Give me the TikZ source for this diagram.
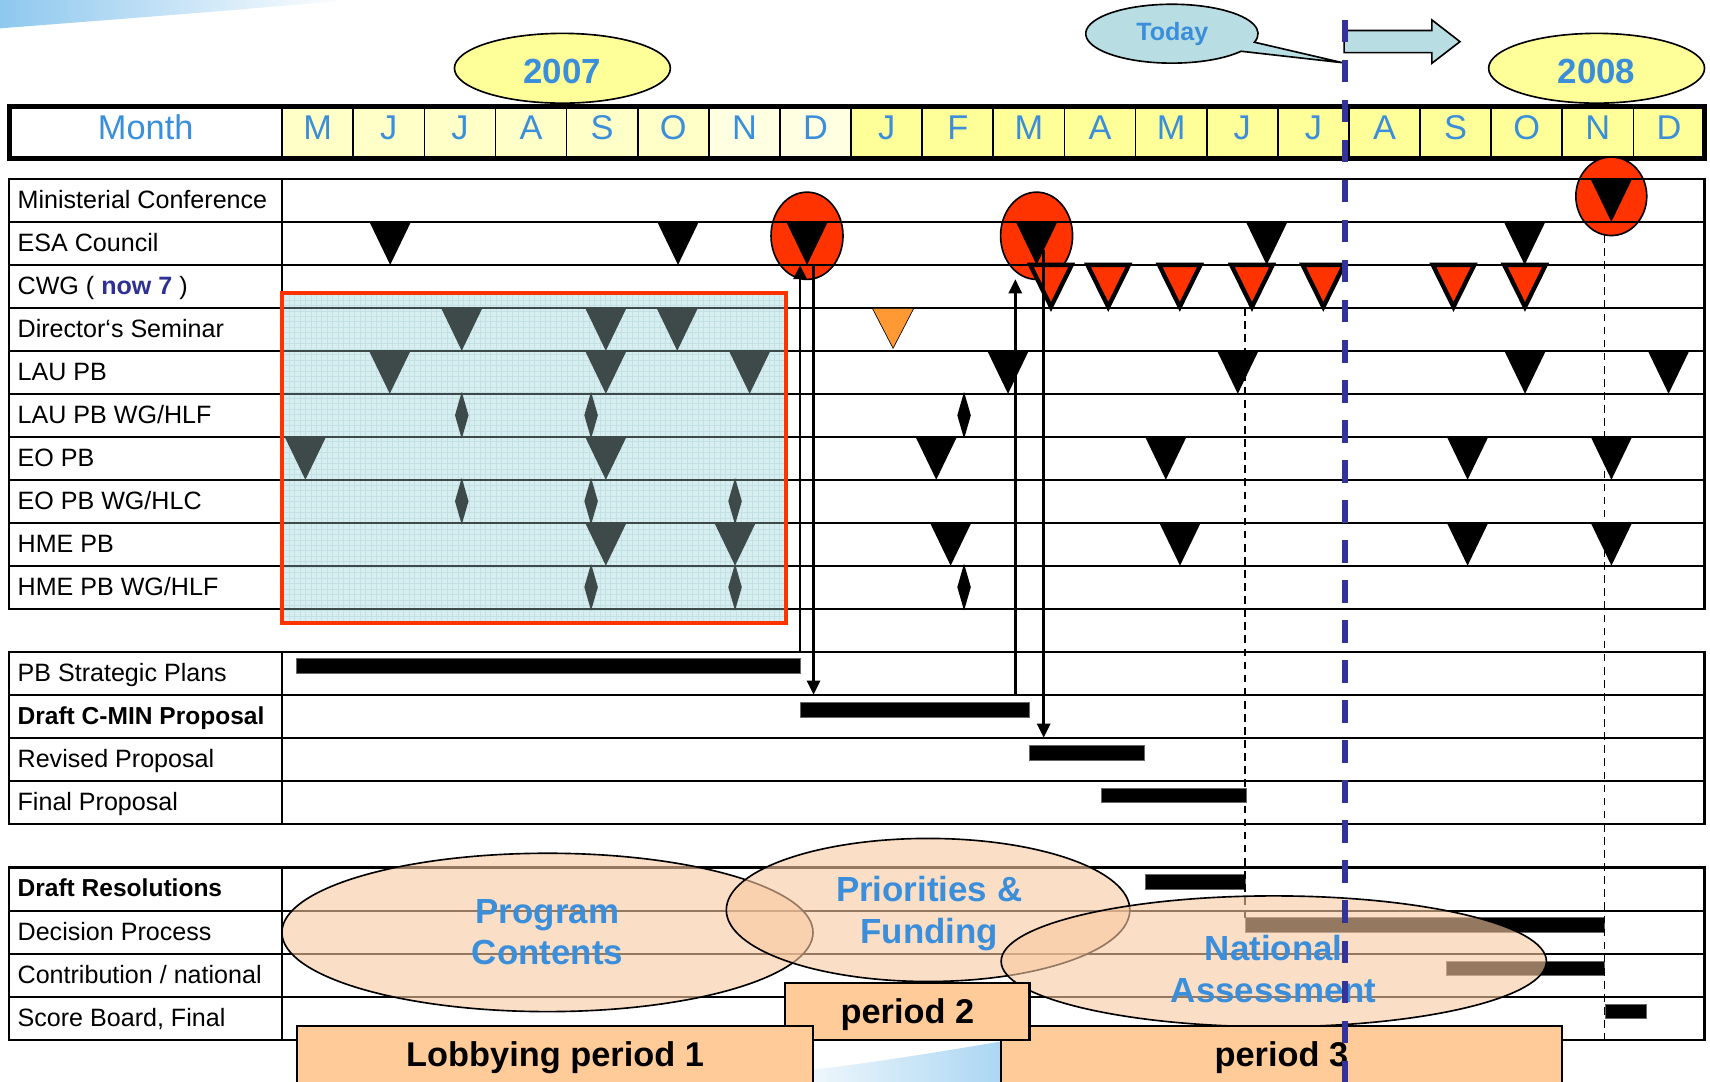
\documentclass[tikz,border=0pt]{standalone}
\usepackage{fontspec}
\setmainfont{Liberation Sans}
\usetikzlibrary{arrows.meta,calc}
\definecolor{mblue}{HTML}{3B8FDA}
\definecolor{navyt}{HTML}{2E3192}
\definecolor{redA}{HTML}{FF3300}
\definecolor{orA}{HTML}{FF9933}
\definecolor{peach}{HTML}{FFCC99}
\definecolor{ellP}{HTML}{F9C9A0}
\definecolor{cyanA}{HTML}{B8DEE3}
\definecolor{boxC}{HTML}{D7EEF0}
\definecolor{gridC}{HTML}{C3E1E5}
\definecolor{grayT}{HTML}{3E4A4A}
\definecolor{ylA}{HTML}{FFFFC8}
\definecolor{ylB}{HTML}{FFFFE2}
\definecolor{ylC}{HTML}{FFFF99}
\definecolor{yrY}{HTML}{FFFF99}
\definecolor{todayB}{HTML}{333399}
\definecolor{swA}{HTML}{8EC8EE}
\newcommand\setfs[1]{\fontsize{#1}{#1}\selectfont}
\newcommand\dtri[3]{\fill[#3] (#1,#2) ++(-19,0) -- ++(38,0) -- ++(-19,39.4) -- cycle;}
\newcommand\dmd[3]{\fill[#3] (#1,#2) ++(0,-21.5) -- ++(6.2,21.5) -- ++(-6.2,21.5) -- ++(-6.2,-21.5) -- cycle;}
\newcommand\rtri[1]{\filldraw[fill=redA,draw=black,line width=4pt,miter limit=10] (#1,242.9) ++(-19,0) -- ++(38,0) -- ++(-19,38.5) -- cycle;}
\begin{document}
\begin{tikzpicture}[x=1pt,y=-1pt,line join=miter,
  tline/.style={line width=2pt},
  lbl/.style={anchor=base west,inner sep=0pt,font=\setfs{23}},
  lblb/.style={anchor=base west,inner sep=0pt,font=\bfseries\setfs{22.5}},
  mon/.style={anchor=base,inner sep=0pt,text=mblue,font=\setfs{31.5}},
  yr/.style={anchor=base,inner sep=0pt,text=mblue,font=\bfseries\setfs{32}},
  elltxt/.style={anchor=base,inner sep=0pt,text=mblue,font=\bfseries\setfs{32}},
  pertxt/.style={anchor=base,inner sep=0pt,font=\bfseries\setfs{31.5}},
  bigell/.style={fill=ellP,fill opacity=0.6,draw=black,line width=1.5pt},
  redell/.style={fill=redA,draw=black,line width=1.5pt},
  perbox/.style={fill=peach,draw=black,line width=2pt},
  bar/.style={fill=black,draw=black!60,line width=0.5pt},
  arr/.style={line width=2.5pt,-{Triangle[length=13pt,width=12pt]}},
  thindash/.style={line width=1.3pt,dash pattern=on 7pt off 5pt}]
\useasboundingbox (0,0) rectangle (1568,992);
\fill[white] (0,0) rectangle (1568,992);
% background swooshes
\shade[left color=swA,right color=white] (0,0) -- (320,0) .. controls (210,10) and (90,19) .. (0,26) -- cycle;
\shade[left color=white,right color=swA!80] (700,992) -- (700,986) .. controls (780,978) and (860,965) .. (935,952) -- (935,992) -- cycle;

% ---------- header ----------
\fill[white] (8.6,97.8) rectangle (258.7,145.5);
\foreach \i in {0,...,19}{
  \ifnum\i<6 \def\cc{ylA}\else\ifnum\i<8 \def\cc{ylB}\else\def\cc{ylC}\fi\fi
  \fill[\cc] ({258.7+65.215*\i},97.8) rectangle ({258.7+65.215*(\i+1)},145.5);
}
\foreach \i in {0,...,19}{
  \draw[line width=1.6pt] ({258.7+65.215*\i},97.8) -- ({258.7+65.215*\i},145.5);
}
\draw[line width=4pt] (8.6,97.8) rectangle (1563,145.5);
\node[mon] (monthlbl) at (133.6,128) {Month};
\foreach \m [count=\i from 0] in {M,J,J,A,S,O,N,D,J,F,M,A,M,J,J,A,S,O,N,D}{
  \node[mon] (m\i) at ({258.7+65.215*(\i+0.5)},128) {\m};
}

% year ellipses
\draw[fill=yrY,line width=1.5pt] (515.7,62.6) ellipse[x radius=99pt,y radius=32pt];
\node[yr] (y2007) at (515.7,76.4) {2007};
\draw[fill=yrY,line width=1.5pt] (1464,62.6) ellipse[x radius=99pt,y radius=32pt];
\node[yr] (y2008) at (1464,76.4) {2008};

% today callout
\draw[fill=cyanA,line width=1.5pt] (1138,47) arc[start angle=-36.6,end angle=-376.8,x radius=79pt,y radius=27pt] -- (1231,57.5) -- cycle;
\node[anchor=base,inner sep=0pt,text=mblue,font=\bfseries\setfs{23}] (today) at (1075,36.7) {Today};
% block arrow
\draw[fill=cyanA,line width=1.5pt] (1232.5,28) -- (1313,28) -- (1313,18.3) -- (1338.7,38.2) -- (1313,58) -- (1313,48.3) -- (1232.5,48.3) -- cycle;

% ---------- red ellipses ----------
\draw[redell] (740,216.2) ellipse[x radius=33pt,y radius=40pt];
\draw[redell] (950.5,216.2) ellipse[x radius=33pt,y radius=40pt];
\draw[redell] (1477.5,180) ellipse[x radius=32.5pt,y radius=36pt];

% ---------- table 1 ----------
\draw[tline] (8.6,164.1) rectangle (1563,558.1);
\foreach \k in {1,...,9}{\draw[tline] (8.6,{164.1+39.4*\k}) -- (1563,{164.1+39.4*\k});}
\draw[tline] (258.7,164.1) -- (258.7,558.1);
\node[lbl] (l1) at (16,191.1) {Ministerial Conference};
\node[lbl] (l2) at (16,230.5) {ESA Council};
\node[lbl] (l3) at (16,269.9) {CWG ( \textbf{\textcolor{navyt}{now 7}} )};
\node[lbl] (l4) at (16,309.3) {Director‘s Seminar};
\node[lbl] (l5) at (16,348.7) {LAU PB};
\node[lbl] (l6) at (16,388.1) {LAU PB WG/HLF};
\node[lbl] (l7) at (16,427.5) {EO PB};
\node[lbl] (l8) at (16,466.9) {EO PB WG/HLC};
\node[lbl] (l9) at (16,506.3) {HME PB};
\node[lbl] (l10) at (16,545.7) {HME PB WG/HLF};

% red box
\fill[boxC] (258.6,268.4) rectangle (721,571.5);
\begin{scope}
  \clip (260.5,270.3) rectangle (719.1,569.6);
  \draw[gridC,line width=0.5pt] (255,265) grid[step=5pt] (725,575);
\end{scope}
\foreach \k in {3,...,10}{\draw[grayT,line width=2pt] (260.5,{164.1+39.4*\k}) -- (719.1,{164.1+39.4*\k});}
\dtri{423.4}{282.3}{grayT}\dtri{555.5}{282.3}{grayT}\dtri{621}{282.3}{grayT}
\dtri{357.4}{321.7}{grayT}\dtri{555.5}{321.7}{grayT}\dtri{687.4}{321.7}{grayT}
\dtri{280}{400.5}{grayT}\dtri{555.5}{400.5}{grayT}
\dtri{555.5}{479.3}{grayT}\dtri{674}{479.3}{grayT}
\dmd{423.4}{380.8}{grayT}\dmd{542}{380.8}{grayT}
\dmd{423.4}{459.6}{grayT}\dmd{542}{459.6}{grayT}\dmd{674}{459.6}{grayT}
\dmd{542}{538.4}{grayT}\dmd{674}{538.4}{grayT}
\draw[redA,line width=4pt] (258.6,268.4) rectangle (721,571.5);

% black markers
\dtri{1477.5}{164.1}{black}
\dtri{357.8}{203.5}{black}\dtri{621.7}{203.5}{black}\dtri{740}{203.5}{black}\dtri{950.5}{203.5}{black}\dtri{1161.5}{203.5}{black}\dtri{1398}{203.5}{black}
\dtri{924.3}{321.7}{black}\dtri{1135}{321.7}{black}\dtri{1398.4}{321.7}{black}\dtri{1530}{321.7}{black}
\dtri{858.5}{400.5}{black}\dtri{1069}{400.5}{black}\dtri{1345.7}{400.5}{black}\dtri{1477.6}{400.5}{black}
\dtri{871.7}{479.3}{black}\dtri{1082}{479.3}{black}\dtri{1345.7}{479.3}{black}\dtri{1477.6}{479.3}{black}
\dmd{884}{380.8}{black}\dmd{884}{538.4}{black}
\filldraw[fill=orA,draw=black,line width=0.6pt] (799.9,282.7) -- (837.9,282.7) -- (818.9,319.4) -- cycle;
\rtri{963.7}\rtri{1016.2}\rtri{1081.8}\rtri{1148}\rtri{1213.4}\rtri{1332.8}\rtri{1398.3}

% ---------- table 2 ----------
\draw[tline] (8.6,597.5) rectangle (1563,755.5);
\foreach \k in {1,2,3}{\draw[tline] (8.6,{597.5+39.5*\k}) -- (1563,{597.5+39.5*\k});}
\draw[tline] (258.7,597.5) -- (258.7,755.5);
\node[lbl] (p1) at (16,624.5) {PB Strategic Plans};
\node[lblb] (p2) at (16,664) {Draft C-MIN Proposal};
\node[lbl] (p3) at (16,703.5) {Revised Proposal};
\node[lbl] (p4) at (16,743) {Final Proposal};
\draw[bar] (272,604) rectangle (733.6,617);
\draw[bar] (733.6,644) rectangle (944,657.5);
\draw[bar] (944,683.5) rectangle (1049,697);
\draw[bar] (1009.5,722.5) rectangle (1142.5,736);

% ---------- table 3 ----------
\draw[tline] (8.6,795.5) rectangle (1563,953.5);
\foreach \k in {1,2,3}{\draw[tline] (8.6,{795.5+39.5*\k}) -- (1563,{795.5+39.5*\k});}
\draw[tline] (258.7,795.5) -- (258.7,953.5);
\node[lblb] (d1) at (16,822.5) {Draft Resolutions};
\node[lbl] (d2) at (16,862) {Decision Process};
\node[lbl] (d3) at (16,901.5) {Contribution / national};
\node[lbl] (d4) at (16,941) {Score Board, Final};
\draw[bar] (1050,802) rectangle (1141.6,815);
\draw[bar] (1141.6,841.5) rectangle (1471,855);
\draw[bar] (1326.4,881) rectangle (1471,894.6);
\draw[bar] (1471.6,920.6) rectangle (1509.7,934);

% thin dashed guides
\coordinate (g1a) at (1141.6,282.7); \coordinate (g1b) at (1141.6,842);
\coordinate (g2a) at (1471,215.5); \coordinate (g2b) at (1471,953.5);
\draw[thindash] (g1a) -- (g1b);
\draw[thindash] (g2a) -- (g2b);

% arrows
\coordinate (a1s) at (733.6,597.5); \coordinate (a1e) at (733.6,243);
\coordinate (a2s) at (746,243);     \coordinate (a2e) at (746,637);
\coordinate (a3s) at (931,637);     \coordinate (a3e) at (931,256);
\coordinate (a4s) at (957,229);     \coordinate (a4e) at (957,676.5);
\draw[arr] (a1s) -- (a1e);
\draw[arr] (a2s) -- (a2e);
\draw[arr] (a3s) -- (a3e);
\draw[arr] (a4s) -- (a4e);

% ---------- big ellipses ----------
\draw[bigell] (502,855) ellipse[x radius=243.5pt,y radius=72.6pt];
\draw[bigell] (851,834.4) ellipse[x radius=185pt,y radius=65.6pt];
\draw[bigell] (1168,881.5) ellipse[x radius=250pt,y radius=60pt];
\node[elltxt] (e1a) at (502,846.6) {Program};
\node[elltxt] (e1b) at (502,884.8) {Contents};
\node[elltxt] (e2a) at (852,826.7) {Priorities \&};
\node[elltxt] (e2b) at (852,865) {Funding};
\node[elltxt] (e3a) at (1168,880.3) {National};
\node[elltxt] (e3b) at (1168,919) {Assessment};

% ---------- period boxes ----------
\draw[perbox] (918,940.5) rectangle (1432,1000);
\draw[perbox] (720,901) rectangle (944,953.6);
\draw[perbox] (272,940.5) rectangle (745.6,1000);
\node[pertxt] (per3) at (1175,978) {period 3};
\node[pertxt] (per2) at (832,938.3) {period 2};
\node[pertxt] (per1) at (509,978) {Lobbying period 1};

% today line
\coordinate (todayTop) at (1233.5,18.3);
\coordinate (todayBot) at (1233.5,992);
\draw[todayB,line width=5pt,dash pattern=on 20.5pt off 16.2pt] (todayTop) -- (todayBot);
\end{tikzpicture}
\end{document}
